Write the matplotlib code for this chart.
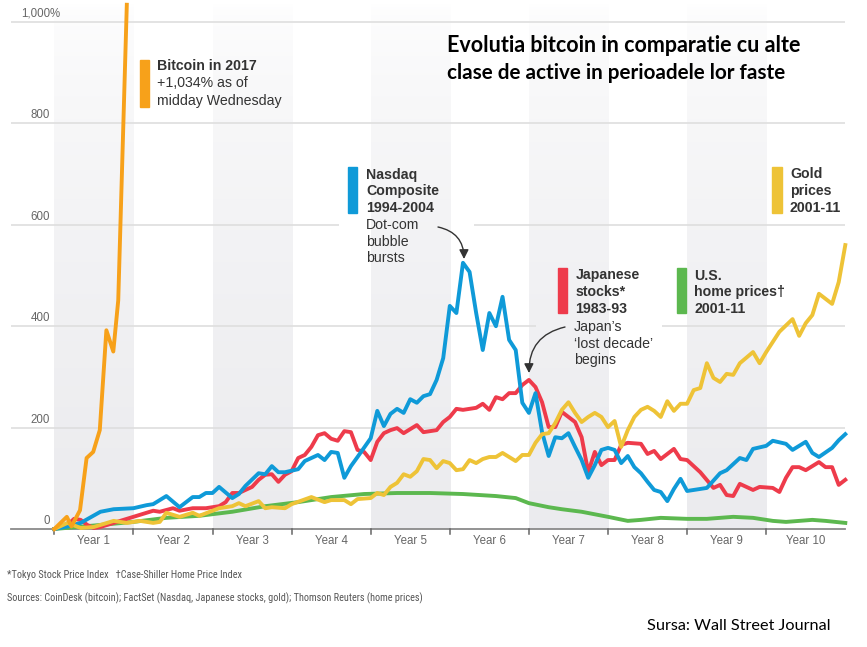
import os
import numpy as np
import matplotlib
matplotlib.use("Agg")
import matplotlib.pyplot as plt
from matplotlib.patches import Rectangle, FancyArrowPatch
from matplotlib import font_manager as fm

# ---------------- data ----------------
btc_m = [0, 1.9, 2.6, 3.9, 4.9, 5.9, 6.9, 7.9, 8.95, 9.7, 11.0]
btc_v = [0, 24, 5, 37, 140, 152, 195, 392, 350, 451, 1034]

nasdaq_m = [0,2,4,7,9,12,14,15,17,19,21,22,23,24,25,27,28,29,31,32,33,34,35,37,38,40,41,42,43,44,
            45,46,48,49,50,51,52,53,54,55,56,57,58,59,60,61,62,63,64,65,66,67,68,69,70,71,72,73,74,75,
            76,77,78,79,80,81,82,83,84,85,86,87,88,89,90,91,92,93,94,95,96,98,99,101,102,104,105,106,108,109,
            111,112,114,115,116,118,119,120]
nasdaq_v = [0,5,12,34,39,41,47,49,65,43,63,63,71,71,83,61,69,85,110,108,124,112,112,118,134,146,136,152,150,101,
            124,142,179,233,203,227,237,229,256,249,262,266,294,337,440,426,525,507,426,353,426,400,458,373,353,249,229,268,191,144,
            181,179,189,162,136,101,126,156,160,156,130,144,122,110,93,77,73,55,79,99,75,79,81,110,116,140,136,158,164,174,
            168,156,172,150,142,160,175,187]

japan_m = [0,2,3,4,5,6,7,9,12,13,15,16,18,19,21,23,24,25,26,27,28,30,31,32,33,34,35,36,37,38,
           39,40,41,42,43,44,45,46,47,48,49,50,51,52,53,55,56,58,59,60,61,62,64,65,66,67,68,69,70,71,
           72,73,74,75,76,77,78,79,80,81,82,83,84,85,86,87,89,90,91,92,94,95,96,98,100,101,102,103,104,106,
           107,109,110,111,112,113,114,116,117,118,119,120]
japan_v = [0,8,20,18,8,2,4,12,24,28,36,34,41,36,41,41,43,45,53,71,71,83,97,107,108,93,107,114,140,146,
           162,185,189,178,174,193,191,156,152,136,172,189,195,199,189,205,191,195,211,221,237,235,239,247,235,260,256,268,268,284,
           294,280,250,201,201,231,221,211,181,112,152,126,136,136,166,170,168,148,154,138,158,138,136,112,81,87,67,65,89,77,
           83,81,73,101,122,122,116,132,122,122,87,97]

gold_m = [0,2,4,6,9,11,13,15,16,17,19,21,22,24,25,27,28,29,31,32,33,35,36,39,41,42,44,45,46,48,
          49,50,51,52,53,54,55,56,57,58,59,60,61,62,63,64,65,66,67,68,69,70,71,72,73,74,75,76,77,78,
          79,80,81,82,83,84,85,86,87,88,89,90,91,92,93,94,95,96,97,98,99,100,101,102,103,104,106,107,108,110,
          112,113,114,115,116,118,119,120]
gold_v = [0,12,2,4,16,12,16,12,14,32,24,32,26,36,41,45,51,45,55,41,43,41,49,63,53,57,57,49,59,61,
          71,67,83,91,108,103,114,138,136,120,134,130,116,118,136,130,138,142,142,150,142,134,146,146,170,187,189,209,235,250,
          229,211,221,229,221,201,213,162,195,221,235,241,233,221,252,233,247,247,274,278,327,298,290,306,304,327,349,327,349,389,
          414,381,406,422,464,444,487,560]

home_m = [0,7,12,17,22,27,32,37,42,47,52,57,62,67,70,72,75,77,80,84,87,89,92,96,99,103,106,109,111,115,117,120]
home_v = [0,8,14,22,26,34,45,53,63,69,71,71,69,65,61,51,43,39,34,24,16,18,22,20,20,24,22,16,14,18,16,12]

year_labels = ["Year %d" % i for i in range(1, 11)]
y_ticks = [0, 200, 400, 600, 800, 1000]
y_tick_labels = ["0", "200", "400", "600", "800", "1,000"]

C_BTC = "#f7a11a"
C_NAS = "#0f9ad8"
C_JAP = "#ee3b4b"
C_HOME = "#5cb84f"
C_GOLD = "#eec337"

# ---------------- figure ----------------
W, H = 867, 647
fig = plt.figure(figsize=(W / 100, H / 100), dpi=100)
fig.patch.set_facecolor("white")

Y0 = 529.0            # pixel row of value 0
PPU = 0.507           # pixels per value unit
X0 = 54.3             # pixel column of month 0
PPM = 79.1 / 12       # pixels per month
ytop = (Y0 - 2) / PPU
xl = (11 - X0) / PPM
xr = (845 - X0) / PPM
ax = fig.add_axes([11 / W, (H - Y0) / H, (845 - 11) / W, (Y0 - 2) / H])
ax.set_xlim(xl, xr)
ax.set_ylim(0, ytop)
ax.axis("off")

def m_of(px):
    return (px - X0) / PPM

# shaded bands with vertical gradient
grad = np.zeros((200, 1, 4))
grad[..., 0] = 0.925
grad[..., 1] = 0.925
grad[..., 2] = 0.937
grad[:, 0, 3] = np.linspace(0.0, 1.0, 200) ** 0.6
for k in range(0, 10, 2):
    ax.imshow(grad, extent=[12 * k, 12 * (k + 1), 0, ytop], aspect="auto",
              origin="upper", zorder=0, interpolation="bilinear")
ax.set_xlim(xl, xr)
ax.set_ylim(0, ytop)

# gridlines (with gaps behind annotation text)
gcol = "#dedede"
glw = 1.2
segments = {
    200: [(xl, xr)],
    400: [(xl, m_of(536)), (m_of(662), xr)],
    600: [(xl, m_of(339)), (m_of(474), xr)],
    800: [(xl, xr)],
    1000: [(xl, xr)],
}
for v, segs in segments.items():
    for a, b in segs:
        ax.plot([a, b], [v, v], color=gcol, lw=glw, zorder=1, solid_capstyle="butt")

# baseline axis and year ticks
ax.plot([xl, xr], [0, 0], color="#8a8a8a", lw=1.3, zorder=2, clip_on=False)
for k in range(10):
    ax.plot([12 * k, 12 * k], [0, -5 / PPU], color="#666666", lw=1.1, clip_on=False, zorder=2)
    ax.text(12 * k + 6, -14.5 / PPU, year_labels[k], ha="center", va="baseline",
            fontsize=8.3, color="#666666", family="Liberation Sans", clip_on=False)

# y tick labels
for v, lab in zip(y_ticks, y_tick_labels):
    yb = Y0 - v * PPU - 5
    fig.text(50 / W, 1 - yb / H, lab, ha="right", va="baseline", fontsize=8.3,
             color="#666666", family="Liberation Sans")
fig.text(50 / W, 1 - (Y0 - 1000 * PPU - 5) / H, "%", ha="left", va="baseline",
         fontsize=8.3, color="#666666", family="Liberation Sans")

# series
lw = 2.8
ax.plot(home_m, home_v, color=C_HOME, lw=lw, zorder=3, clip_on=False)
ax.plot(japan_m, japan_v, color=C_JAP, lw=lw, zorder=4, clip_on=False)
ax.plot(nasdaq_m, nasdaq_v, color=C_NAS, lw=lw, zorder=5, clip_on=False)
ax.plot(gold_m, gold_v, color=C_GOLD, lw=lw, zorder=6, clip_on=False)
ax.plot(btc_m, btc_v, color=C_BTC, lw=lw, zorder=7, clip_on=False)

# ---------------- annotations ----------------
def bar(x0, x1, y0, y1, color):
    fig.patches.append(Rectangle((x0 / W, 1 - y1 / H), (x1 - x0) / W, (y1 - y0) / H,
                                 transform=fig.transFigure, color=color, zorder=5))

def line(x, yb, s, bold=False, size=10.2, color="#333333"):
    return fig.text(x / W, 1 - yb / H, s, ha="left", va="baseline", fontsize=size,
                    fontweight="bold" if bold else "normal", color=color,
                    family="Liberation Sans")

bar(139.5, 149, 60, 107, C_BTC)
line(157, 69.5, "Bitcoin in 2017", bold=True)
line(157, 87, "+1,034% as of")
line(157, 104.5, "midday Wednesday")

bar(348.3, 357.3, 167.3, 213.3, C_NAS)
line(366, 178.5, "Nasdaq", bold=True)
line(366, 195, "Composite", bold=True)
line(366, 212, "1994-2004", bold=True)
line(366, 229, "Dot-com")
line(366, 245.5, "bubble")
line(366, 262, "bursts")

bar(558.3, 567.3, 268.3, 313.3, C_JAP)
line(575.5, 279.5, "Japanese", bold=True)
line(575.5, 296, "stocks*", bold=True)
line(575.5, 313, "1983-93", bold=True)
line(574, 331.5, "Japan\u2019s")
line(574, 347.5, "\u2018lost decade\u2019")
line(574, 364, "begins")

bar(676.7, 686, 268.3, 313.3, C_HOME)
line(694.3, 279.5, "U.S.", bold=True)
line(694.3, 296, "home prices\u2020", bold=True)
line(694.3, 313, "2001-11", bold=True)

bar(772.3, 781.7, 167.3, 213.3, C_GOLD)
line(790, 178.5, "Gold", bold=True)
line(790, 195, "prices", bold=True)
line(790, 212, "2001-11", bold=True)

# arrows
def arrow(x0, y0, x1, y1, rad):
    fig.add_artist(FancyArrowPatch(
        (x0 / W, 1 - y0 / H), (x1 / W, 1 - y1 / H), transform=fig.transFigure,
        connectionstyle="arc3,rad=%f" % rad, arrowstyle="-|>,head_length=0.55,head_width=0.28",
        mutation_scale=10, color="#333333", lw=1.0, shrinkA=0, shrinkB=0, zorder=8))

arrow(438, 227, 464, 259, -0.4)
arrow(565, 327, 529, 373, 0.4)

# ---------------- condensed font for footnotes ----------------
def pick_condensed():
    files = {}
    for f in fm.fontManager.ttflist:
        files[os.path.basename(f.fname).lower()] = f.fname
    prefs = ["liberationsansnarrow-regular.ttf", "arialn.ttf", "robotocondensed-regular.ttf",
             "notosans-condensed.ttf", "notosans-condensedregular.ttf",
             "notosans-semicondensed.ttf", "dejavusanscondensed.ttf"]
    for p in prefs:
        if p in files:
            return files[p]
    return None

cond_file = pick_condensed()

# ---------------- titles / footnotes (fitted to width) ----------------
fig.canvas.draw()
renderer = fig.canvas.get_renderer()

def fitted(x, yb, s, width, size, family=None, weight="normal", color="black", fname=None):
    if fname is not None:
        fp = fm.FontProperties(fname=fname, size=size)
        t = fig.text(x / W, 1 - yb / H, s, ha="left", va="baseline",
                     fontproperties=fp, color=color)
    else:
        t = fig.text(x / W, 1 - yb / H, s, ha="left", va="baseline", fontsize=size,
                     family=family, fontweight=weight, color=color)
    for _ in range(2):
        w = t.get_window_extent(renderer).width
        t.set_fontsize(t.get_fontsize() * width / w)
    return t

fitted(447, 52, "Evolutia bitcoin in comparatie cu alte", 353, 14, ["Lato", "DejaVu Sans"], "bold")
fitted(447, 79, "clase de active in perioadele lor faste", 338, 14, ["Lato", "DejaVu Sans"], "bold")
fitted(647, 630, "Sursa: Wall Street Journal", 185, 11, ["Lato", "DejaVu Sans"])

foot1 = "*Tokyo Stock Price Index   \u2020Case-Shiller Home Price Index"
foot2 = "Sources: CoinDesk (bitcoin); FactSet (Nasdaq, Japanese stocks, gold); Thomson Reuters (home prices)"
if cond_file is not None:
    fitted(6.7, 578.5, foot1, 236, 8, color="#555555", fname=cond_file)
    fitted(6.7, 601, foot2, 416, 8, color="#555555", fname=cond_file)
else:
    fig.text(6.7 / W, 1 - 578.5 / H, foot1, ha="left", va="baseline", fontsize=7.6,
             family="Roboto", color="#555555")
    fig.text(6.7 / W, 1 - 601 / H, foot2, ha="left", va="baseline", fontsize=7.6,
             family="Roboto", color="#555555")

fig.savefig("out.png", dpi=100, facecolor="white")
